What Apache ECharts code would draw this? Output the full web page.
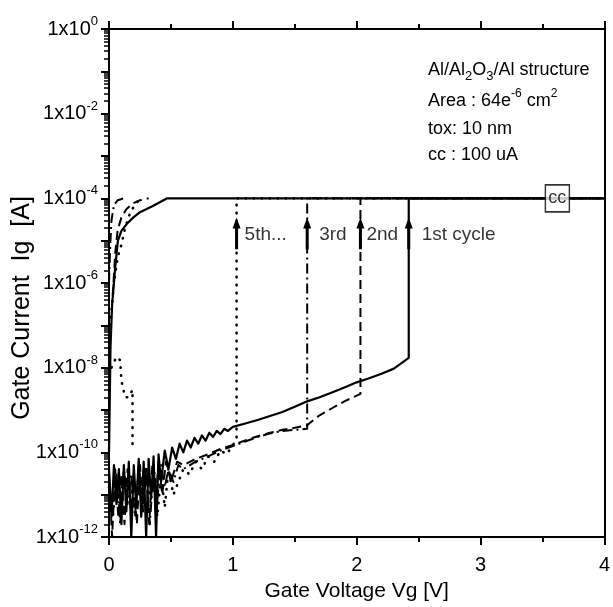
<!DOCTYPE html>
<html><head><meta charset="utf-8">
<script src="https://cdn.jsdelivr.net/npm/echarts@6/dist/echarts.min.js"></script>
<style>html,body{margin:0;padding:0;background:#fff}#c{width:613px;height:607px}</style>
</head><body><div id="c"></div>
<script>
const FONT = "'Liberation Sans', Arial, sans-serif";

// ---- axis ticks ----
const xTicks = [0, 1, 2, 3, 4];
const yDecades = [1e-12, 1e-11, 1e-10, 1e-9, 1e-8, 1e-7, 1e-6, 1e-5, 1e-4, 1e-3, 1e-2, 1e-1, 1];
const yLabelValues = [1e-12, 1e-10, 1e-8, 1e-6, 1e-4, 1e-2, 1];
const yMinorMult = [2, 3, 4, 5, 6, 7, 8, 9];

// ---- 1st cycle (solid) forward sweep ----
const c1X = [0, 0.02, 0.04, 0.06, 0.08, 0.10, 0.12, 0.14, 0.16, 0.18, 0.20, 0.22, 0.24, 0.26, 0.28, 0.30, 0.32, 0.34, 0.36, 0.38, 0.40, 0.42, 0.45, 0.48, 0.51, 0.54, 0.57, 0.60, 0.63, 0.66, 0.69, 0.72, 0.75, 0.78, 0.81, 0.84, 0.87, 0.90, 0.93, 0.96, 1.00, 1.10, 1.20, 1.30, 1.40, 1.50, 1.60, 1.70, 1.80, 1.90, 2.00, 2.10, 2.20, 2.30, 2.42, 2.42, 4.00];
const c1Y = [4e-11, 3e-12, 5e-11, 6e-12, 4e-11, 2e-12, 5e-11, 4e-12, 6e-11, 1e-12, 5e-11, 5e-12, 7e-11, 3e-12, 6e-11, 1e-12, 7e-11, 8e-12, 8e-11, 1e-12, 9e-11, 2e-11, 1.1e-10, 4e-11, 1.3e-10, 7e-11, 1.6e-10, 1e-10, 1.9e-10, 1.3e-10, 2.2e-10, 1.6e-10, 2.5e-10, 1.9e-10, 2.9e-10, 2.3e-10, 3.2e-10, 2.7e-10, 3.6e-10, 3.2e-10, 4e-10, 4.8e-10, 5.8e-10, 7.2e-10, 9e-10, 1.2e-9, 1.6e-9, 2e-9, 2.6e-9, 3.4e-9, 4.5e-9, 5.6e-9, 7.2e-9, 9.5e-9, 1.7e-8, 1e-4, 1e-4];
// 1st cycle (solid) low-voltage branch
const r1X = [0.000, 0.005, 0.012, 0.025, 0.048, 0.072, 0.10, 0.144, 0.20, 0.25, 0.35, 0.47, 4.00];
const r1Y = [1e-10, 1e-9, 3e-8, 3e-7, 2e-6, 1e-5, 1.7e-5, 2.5e-5, 3.6e-5, 4.7e-5, 6.5e-5, 1e-4, 1e-4];

// ---- 2nd cycle (dashed) ----
const c2X = [0, 0.025, 0.05, 0.075, 0.10, 0.125, 0.15, 0.175, 0.20, 0.225, 0.25, 0.275, 0.30, 0.325, 0.35, 0.375, 0.40, 0.43, 0.46, 0.50, 0.55, 0.60, 0.70, 0.80, 0.90, 1.00, 1.10, 1.20, 1.30, 1.40, 1.50, 1.60, 1.70, 1.80, 1.90, 2.03, 2.03, 4.00];
const c2Y = [3e-11, 1e-12, 4e-11, 3e-12, 3e-11, 2e-12, 4e-11, 5e-12, 3e-11, 2e-12, 5e-11, 4e-12, 4e-11, 2e-12, 5e-11, 6e-12, 6e-11, 1e-11, 6e-11, 2e-11, 6e-11, 5e-11, 7e-11, 9e-11, 1.2e-10, 1.5e-10, 1.9e-10, 2.4e-10, 2.9e-10, 3.4e-10, 3.8e-10, 4.4e-10, 7.5e-10, 1.1e-9, 1.6e-9, 2.4e-9, 1e-4, 1e-4];
const r2X = [0.03, 0.05, 0.07, 0.10, 0.14, 0.19, 0.25, 0.32];
const r2Y = [5e-7, 5e-6, 1.8e-5, 3.5e-5, 5.5e-5, 7.5e-5, 9e-5, 1e-4];

// ---- 3rd cycle (dash-dot) ----
const c3X = [0, 0.03, 0.06, 0.09, 0.12, 0.15, 0.18, 0.21, 0.24, 0.27, 0.30, 0.33, 0.36, 0.39, 0.42, 0.45, 0.48, 0.52, 0.56, 0.60, 0.70, 0.80, 0.90, 1.00, 1.10, 1.20, 1.30, 1.40, 1.50, 1.60, 1.60, 4.00];
const c3Y = [2e-11, 4e-12, 3e-11, 2e-12, 4e-11, 6e-12, 3e-11, 3e-12, 5e-11, 5e-12, 4e-11, 2e-12, 5e-11, 8e-12, 5e-11, 1.5e-11, 4e-11, 2e-11, 5e-11, 4e-11, 6e-11, 8e-11, 1.1e-10, 1.4e-10, 1.8e-10, 2.3e-10, 2.8e-10, 3.2e-10, 3.4e-10, 3.6e-10, 1e-4, 1e-4];
const r3X = [0.0, 0.01, 0.02, 0.04, 0.07, 0.12];
const r3Y = [1e-6, 8e-6, 3e-5, 7e-5, 9e-5, 1e-4];

// ---- 5th cycle (dotted) ----
const c5X = [0, 0.03, 0.06, 0.09, 0.12, 0.15, 0.18, 0.21, 0.24, 0.27, 0.30, 0.33, 0.36, 0.39, 0.42, 0.45, 0.48, 0.52, 0.56, 0.60, 0.65, 0.70, 0.75, 0.80, 0.85, 0.90, 0.95, 1.03, 1.03, 4.00];
const c5Y = [1.5e-11, 3e-12, 2e-11, 6e-12, 3e-11, 1e-11, 2e-11, 5e-12, 3e-11, 8e-12, 4e-11, 1e-11, 2e-11, 3e-12, 3e-11, 5e-12, 4e-11, 1e-11, 2e-11, 4e-11, 3e-11, 6e-11, 4e-11, 8e-11, 6e-11, 1.1e-10, 9e-11, 2e-10, 1e-4, 1e-4];
const r5X = [0.01, 0.04, 0.07, 0.10, 0.13, 0.17, 0.22, 0.28];
const r5Y = [1e-7, 1e-6, 4e-6, 8e-6, 2e-5, 4.5e-5, 8e-5, 1e-4];
const d5X = [0.02, 0.06, 0.09, 0.10, 0.13, 0.16, 0.19, 0.19];
const d5Y = [1e-8, 1.8e-8, 1.5e-8, 5e-9, 2e-9, 2e-9, 3e-9, 1.5e-10];

// ---- annotations ----
const arrowX = [1.03, 1.60, 2.03, 2.42];
const arrowLabels = ['5th...', '3rd', '2nd', '1st cycle'];
const arrowTail = 6.3e-6, arrowHead = 2.6e-5, labelY = 1.4e-5;
const ccPoint = [3.62, 1e-4];

const labelGap = [8, 12, 6, 13];
const zip = (xs, ys) => xs.map((x, i) => [x, ys[i]]);
const line = (name, xs, ys, type, width, cap) => ({
  name, type: 'line', data: zip(xs, ys), showSymbol: false, symbol: 'none', silent: true,
  lineStyle: { color: '#000', width: width, type: type, cap: cap || 'butt', join: 'round' }, z: 3
});
const DASH = [9, 5], DASHDOT = [10, 4, 2, 4], DOT = [0.5, 7.5];

const minorVals = [];
for (let e = -12; e < 0; e++) for (const m of yMinorMult) minorVals.push(m * Math.pow(10, e));

const series = [
  line('1st', c1X, c1Y, 'solid', 2.2),
  line('1st-b', r1X, r1Y, 'solid', 2.2),
  line('2nd', c2X, c2Y, DASH, 2),
  line('2nd-b', r2X, r2Y, DASH, 2),
  line('3rd', c3X, c3Y, DASHDOT, 2),
  line('3rd-b', r3X, r3Y, DASHDOT, 2),
  line('5th', c5X, c5Y, DOT, 2.6, 'round'),
  line('5th-b', r5X, r5Y, DOT, 2.6, 'round'),
  line('5th-c', d5X, d5Y, DOT, 2.6, 'round')
];
arrowX.forEach((x, i) => series.push({
  type: 'line', silent: true, z: 5, showSymbol: true,
  lineStyle: { color: '#000', width: 3 },
  itemStyle: { color: '#000' },
  data: [{ value: [x, arrowTail], symbol: 'none' },
         { value: [x, arrowHead], symbol: 'triangle', symbolSize: [8, 11] }]
}));
series.push({
  type: 'scatter', silent: true, symbolSize: 0, z: 6,
  data: arrowX.map((x, i) => ({ value: [x, labelY], label: { distance: labelGap[i] } })),
  label: { show: true, position: 'right', color: '#000', fontFamily: FONT, fontSize: 19,
           formatter: p => arrowLabels[p.dataIndex] }
});
series.push({
  type: 'scatter', silent: true, z: 7, symbol: 'rect', symbolSize: [24, 27],
  data: [ccPoint],
  itemStyle: { color: '#fff', borderColor: '#000', borderWidth: 1.5 },
  label: { show: true, position: 'inside', formatter: 'cc', color: '#000', fontFamily: FONT, fontSize: 18 }
});

const axisLineStyle = { color: '#000', width: 2 };
const chart = echarts.init(document.getElementById('c'));
chart.setOption({
  animation: false,
  backgroundColor: '#fff',
  grid: { left: 109, right: 5, top: 29, bottom: 68, containLabel: false },
  xAxis: [{
    type: 'value', min: 0, max: 4, interval: 1, position: 'bottom',
    axisLine: { show: true, onZero: false, lineStyle: axisLineStyle },
    axisTick: { show: true, inside: false, length: 8, lineStyle: { color: '#000', width: 2 } },
    minorTick: { show: true, splitNumber: 2, length: 5, lineStyle: { color: '#000', width: 2 } },
    splitLine: { show: false },
    axisLabel: { color: '#000', fontFamily: FONT, fontSize: 20, margin: 18, showMaxLabel: true, showMinLabel: true },
    name: 'Gate Voltage Vg [V]', nameLocation: 'middle', nameGap: 44,
    nameTextStyle: { color: '#000', fontFamily: FONT, fontSize: 21 }
  }, {
    type: 'value', min: 0, max: 4, interval: 1, position: 'top',
    axisLine: { show: true, onZero: false, lineStyle: axisLineStyle },
    axisTick: { show: true, inside: false, length: 8, lineStyle: { color: '#000', width: 2 } },
    minorTick: { show: true, splitNumber: 2, length: 5, lineStyle: { color: '#000', width: 2 } },
    splitLine: { show: false }, axisLabel: { show: false }
  }],
  yAxis: [{
    type: 'log', logBase: 10, min: 1e-12, max: 1, position: 'left',
    axisLine: { show: true, onZero: false, lineStyle: axisLineStyle },
    axisTick: { show: true, inside: false, length: 8, customValues: yDecades, lineStyle: { color: '#000', width: 2 } },
    splitLine: { show: false },
    axisLabel: {
      customValues: yLabelValues, margin: 11, color: '#000', fontFamily: FONT,
      formatter: v => '{b|1x10}{s|' + Math.round(Math.log10(v)) + '}',
      rich: {
        b: { fontSize: 20, fontFamily: FONT, color: '#000', lineHeight: 28 },
        s: { fontSize: 13, fontFamily: FONT, color: '#000', verticalAlign: 'top', lineHeight: 14 }
      }
    }
  }, {
    type: 'log', logBase: 10, min: 1e-12, max: 1, position: 'left',
    axisLine: { show: false },
    axisTick: { show: true, inside: false, length: 5, customValues: minorVals, lineStyle: { color: '#000', width: 1.5 } },
    axisLabel: { show: false }, splitLine: { show: false }
  }, {
    type: 'log', logBase: 10, min: 1e-12, max: 1, position: 'right',
    axisLine: { show: true, onZero: false, lineStyle: axisLineStyle },
    axisTick: { show: false }, axisLabel: { show: false }, splitLine: { show: false }
  }],
  graphic: [
    { type: 'text', x: 22, y: 308, rotation: Math.PI / 2,
      style: { text: 'Gate Current  Ig  [A]', fill: '#000', font: '25px ' + FONT, align: 'center', verticalAlign: 'middle' } },
    { type: 'text', x: 428, y: 70,
      style: { text: '{n|Al/Al}{sub|2}{n|O}{sub|3}{n|/Al structure}', verticalAlign: 'middle',
        rich: { n: { fontSize: 18, fontFamily: FONT, fill: '#000', lineHeight: 26 },
                sub: { fontSize: 13, fontFamily: FONT, fill: '#000', lineHeight: 14, verticalAlign: 'bottom' } } } },
    { type: 'text', x: 428, y: 101,
      style: { text: '{n|Area : 64e}{sup|-6}{n| cm}{sup|2}', verticalAlign: 'middle',
        rich: { n: { fontSize: 18, fontFamily: FONT, fill: '#000', lineHeight: 26 },
                sup: { fontSize: 12, fontFamily: FONT, fill: '#000', lineHeight: 13, verticalAlign: 'top' } } } },
    { type: 'text', x: 428, y: 129,
      style: { text: 'tox: 10 nm', fill: '#000', font: '18px ' + FONT, verticalAlign: 'middle' } },
    { type: 'text', x: 428, y: 155,
      style: { text: 'cc : 100 uA', fill: '#000', font: '18px ' + FONT, verticalAlign: 'middle' } }
  ],
  series
});
</script></body></html>
